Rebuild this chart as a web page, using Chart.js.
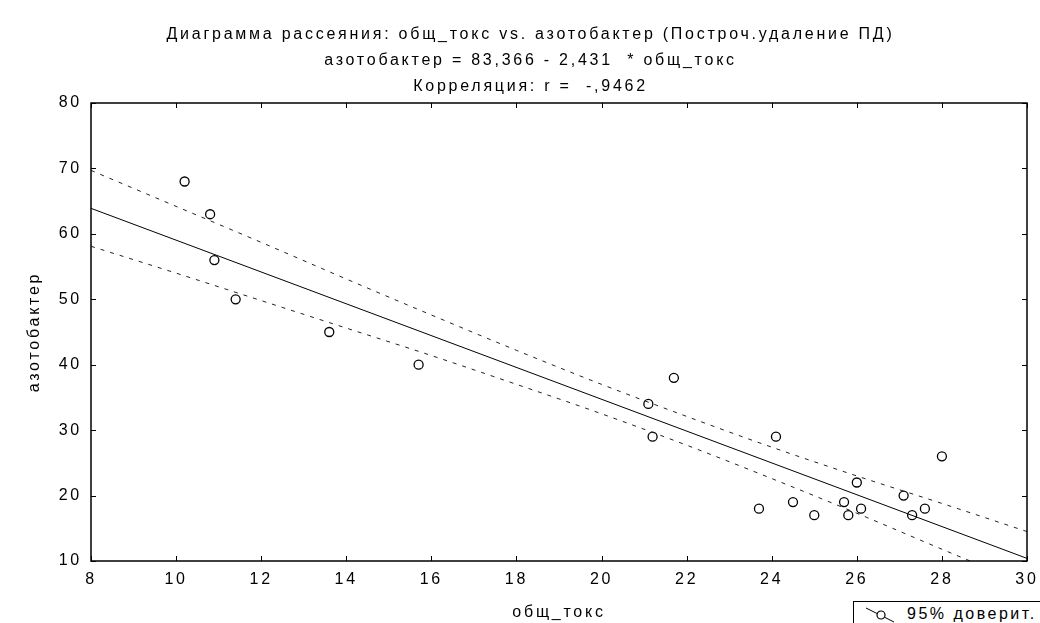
<!DOCTYPE html>
<html>
<head>
<meta charset="utf-8">
<script src="https://cdn.jsdelivr.net/npm/chart.js@4.4.1/dist/chart.umd.min.js"></script>
<style>
    html, body { margin: 0; padding: 0; background: #fff; overflow: hidden; }
    #wrap { position: relative; width: 1040px; height: 623px; overflow: hidden; }
    #legenda {
        position: absolute; left: 853px; top: 601px; width: 200px; height: 30px;
        border: 1.5px solid #000; background: #fff; box-sizing: border-box;
        font: 16px 'Liberation Sans', Arial, sans-serif; letter-spacing: 2.5px; color: #000;
    }
    #legenda svg { position: absolute; left: 11px; top: 4px; }
    #legenda span { position: absolute; left: 53px; top: 3px; white-space: nowrap; }
</style>
</head>
<body>
<div id="wrap">
    <canvas id="grafico" width="1040" height="623"></canvas>
    <div id="legenda">
        <svg width="32" height="20"><line x1="1" y1="2" x2="29" y2="16" stroke="#000" stroke-width="1"/><circle cx="16" cy="9" r="4" fill="#fff" stroke="#000" stroke-width="1.2"/></svg>
        <span>95% доверит.</span>
    </div>
</div>
<script>
// dados
const titulo = [
    'Диаграмма рассеяния: общ_токс vs. азотобактер (Построч.удаление ПД)',
    'азотобактер = 83,366 - 2,431  * общ_токс',
    'Корреляция: r =  -,9462'
];
const tituloX = 'общ_токс';
const tituloY = 'азотобактер';

const ticksX = [8, 10, 12, 14, 16, 18, 20, 22, 24, 26, 28, 30];
const ticksY = [10, 20, 30, 40, 50, 60, 70, 80];

// pontos observados
const toksX = [10.2, 10.8, 10.9, 11.4, 13.6, 15.7, 21.1, 21.2, 21.7, 23.7, 24.1, 24.5, 25.0, 25.7, 25.8, 26.0, 26.1, 27.1, 27.3, 27.6, 28.0];
const azotY = [68, 63, 56, 50, 45, 40, 34, 29, 38, 18, 29, 19, 17, 19, 17, 22, 18, 20, 17, 18, 26];

// reta de regressão (extremos)
const retaX = [8, 30];
const retaY = [63.9, 10.4];

// faixa de confiança 95%
const faixaX = [8, 10, 12, 14, 16, 18, 20, 22, 24, 26, 28, 30];
const faixaSup = [69.7, 64.2, 58.7, 53.1, 47.6, 42.2, 37.0, 32.1, 27.4, 23.0, 18.8, 14.5];
const faixaInf = [58.1, 54.0, 49.8, 45.6, 41.4, 37.0, 32.5, 27.7, 22.6, 17.3, 11.8, 6.4];

const juntar = (xs, ys) => xs.map((x, i) => ({ x: x, y: ys[i] }));

const fonte = "'Liberation Sans', Arial, sans-serif";
Chart.defaults.font.family = fonte;
Chart.defaults.color = '#000';

// espaçamento entre letras e moldura com ticks para dentro
const pluginMoldura = {
    id: 'moldura',
    beforeDraw(chart) {
        const ctx = chart.ctx;
        ctx.fillStyle = '#fff';
        ctx.fillRect(0, 0, chart.width, chart.height);
        ctx.letterSpacing = '2.75px';
    },
    afterDraw(chart) {
        const ctx = chart.ctx;
        const a = chart.chartArea;
        const sx = chart.scales.x;
        const sy = chart.scales.y;
        ctx.save();
        ctx.letterSpacing = '0px';
        ctx.strokeStyle = '#000';
        ctx.lineWidth = 1;
        ctx.beginPath();
        sx.ticks.forEach(t => {
            const px = Math.round(sx.getPixelForValue(t.value)) + 0.5;
            ctx.moveTo(px, a.bottom); ctx.lineTo(px, a.bottom - 5);
            ctx.moveTo(px, a.top); ctx.lineTo(px, a.top + 5);
        });
        sy.ticks.forEach(t => {
            const py = Math.round(sy.getPixelForValue(t.value)) + 0.5;
            ctx.moveTo(a.left, py); ctx.lineTo(a.left + 5, py);
            ctx.moveTo(a.right, py); ctx.lineTo(a.right - 5, py);
        });
        ctx.stroke();
        ctx.lineWidth = 1.5;
        ctx.strokeRect(a.left, a.top, a.right - a.left, a.bottom - a.top);
        ctx.restore();
    }
};

const ctx = document.getElementById('grafico').getContext('2d');
const grafico = new Chart(ctx, {
    type: 'scatter',
    data: {
        datasets: [
            {
                label: 'регрессия',
                data: juntar(retaX, retaY),
                showLine: true,
                borderColor: '#000',
                borderWidth: 1,
                pointRadius: 0
            },
            {
                label: '95% доверит.',
                data: juntar(faixaX, faixaSup),
                showLine: true,
                borderColor: '#222',
                borderWidth: 1,
                borderDash: [4, 6],
                cubicInterpolationMode: 'monotone',
                pointRadius: 0
            },
            {
                label: '95% доверит. (низ)',
                data: juntar(faixaX, faixaInf),
                showLine: true,
                borderColor: '#222',
                borderWidth: 1,
                borderDash: [4, 6],
                cubicInterpolationMode: 'monotone',
                pointRadius: 0
            },
            {
                label: 'азотобактер',
                data: juntar(toksX, azotY),
                pointStyle: 'circle',
                pointRadius: 4.5,
                pointBorderWidth: 1.3,
                pointBorderColor: '#000',
                pointBackgroundColor: 'rgba(255,255,255,0)'
            }
        ]
    },
    options: {
        responsive: false,
        animation: false,
        layout: { padding: { left: 34, right: 13, top: 0, bottom: 0 } },
        plugins: {
            legend: { display: false },
            tooltip: { enabled: false },
            title: {
                display: true,
                text: titulo,
                color: '#000',
                font: { size: 16, weight: 'normal', lineHeight: 1.625 },
                padding: { top: 22, bottom: 3 }
            }
        },
        scales: {
            x: {
                type: 'linear',
                min: 8,
                max: 30,
                afterBuildTicks: s => { s.ticks = ticksX.map(v => ({ value: v })); },
                afterFit: s => { s.height = 62; s.paddingLeft = 0; s.paddingRight = 0; },
                grid: { display: false, drawTicks: false },
                border: { display: false },
                ticks: { font: { size: 16 }, color: '#000', padding: 9, maxRotation: 0 },
                title: { display: true, text: tituloX, font: { size: 16 }, color: '#000', padding: { top: 0, bottom: 1 } }
            },
            y: {
                type: 'linear',
                min: 10,
                max: 80,
                afterBuildTicks: s => { s.ticks = ticksY.map(v => ({ value: v })); },
                afterFit: s => { s.width = 57; },
                grid: { display: false, drawTicks: false },
                border: { display: false },
                ticks: { font: { size: 16 }, color: '#000', padding: 9 },
                title: { display: true, text: tituloY, font: { size: 16 }, color: '#000', padding: { top: -9, bottom: 0 } }
            }
        }
    },
    plugins: [pluginMoldura]
});
</script>
</body>
</html>
